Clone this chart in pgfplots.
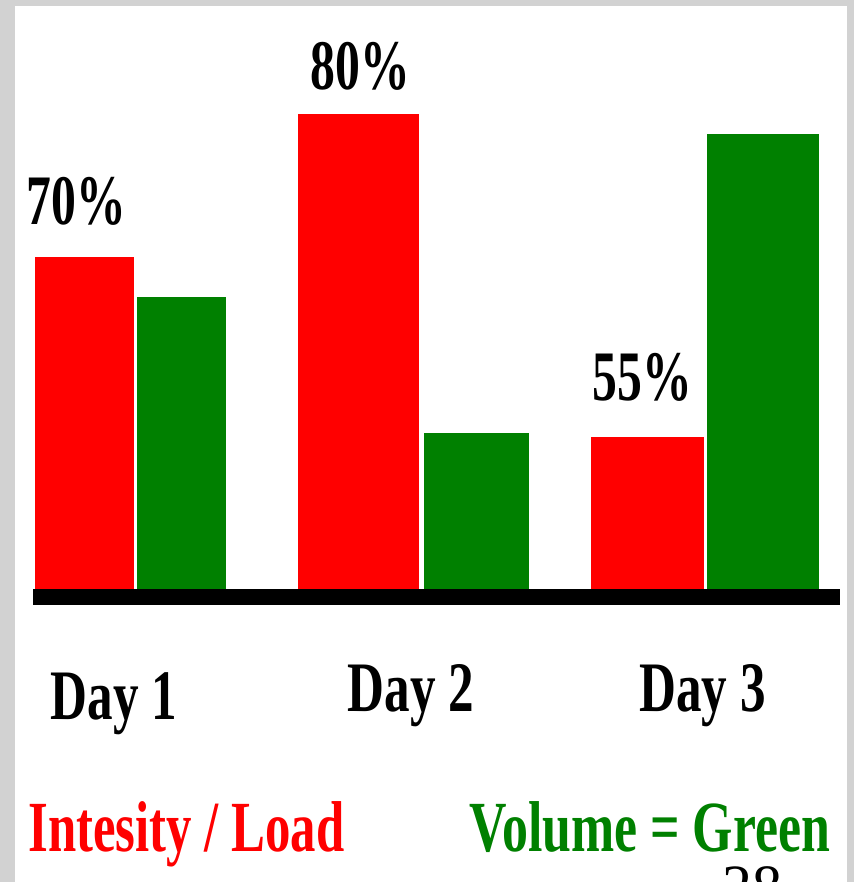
\documentclass[border=0pt]{standalone}
\usepackage{graphicx}
\usepackage{fontspec}
\setmainfont{Liberation Serif}
\usepackage{pgfplots}
\pgfplotsset{compat=1.18}
\definecolor{slidegray}{HTML}{D2D2D2}
\definecolor{rred}{HTML}{FF0000}
\definecolor{ggreen}{HTML}{008000}

% condensed bold label text, as on the slide
\newcommand{\lbl}[2][0.7]{\scalebox{#1}[1]{\fontsize{35.5pt}{40pt}\selectfont\bfseries #2}}

\begin{document}
\begin{tikzpicture}
  \path[use as bounding box] (0,0) rectangle (427pt,441pt);
  \clip (0,0) rectangle (427pt,441pt);
  \fill[slidegray] (0,0) rectangle (427pt,441pt);
  \fill[white] (7.5pt,0) rectangle (423.5pt,438pt);

  \begin{axis}[
    at={(0,0)}, anchor=south west,
    scale only axis,
    width=427pt, height=441pt,
    xmin=0, xmax=854,
    ymin=-285, ymax=597,
    hide axis,
    clip=false,
    every axis plot/.append style={ybar, bar shift=0pt, draw=none},
    every node near coord/.append style={anchor=base, inner sep=0pt},
  ]
    % Day 1
    \addplot[fill=rred, bar width=99, nodes near coords={\lbl{70\%}},
      every node near coord/.append style={xshift=-4.25pt, yshift=16pt}]
      coordinates {(84.5,340)};
    \addplot[fill=ggreen, bar width=89] coordinates {(181.5,300)};
    % Day 2
    \addplot[fill=rred, bar width=121, nodes near coords={\lbl{80\%}},
      every node near coord/.append style={xshift=0.75pt, yshift=12pt}]
      coordinates {(358.5,483)};
    \addplot[fill=ggreen, bar width=105] coordinates {(476.5,164)};
    % Day 3
    \addplot[fill=rred, bar width=113, nodes near coords={\lbl{55\%}},
      every node near coord/.append style={xshift=-2.75pt, yshift=18pt}]
      coordinates {(647.5,160)};
    \addplot[fill=ggreen, bar width=112] coordinates {(763,463)};

    \draw[line width=8pt] (axis cs:33,0) -- (axis cs:840,0);

    \node[anchor=base, inner sep=0pt] at (axis cs:114,-123) {\lbl[0.72]{Day 1}};
    \node[anchor=base, inner sep=0pt] at (axis cs:411,-115) {\lbl[0.72]{Day 2}};
    \node[anchor=base, inner sep=0pt] at (axis cs:702.5,-115) {\lbl[0.72]{Day 3}};

    \node[anchor=base west, inner sep=0pt, text=rred] at (axis cs:28,-255)
      {\lbl[0.705]{\fontsize{36pt}{40pt}\selectfont Intesity / Load}};
    \node[anchor=base west, inner sep=0pt, text=ggreen] at (axis cs:469,-255)
      {\lbl[0.72]{\fontsize{36pt}{40pt}\selectfont Volume = Green}};
    \node[anchor=base west, inner sep=0pt] at (axis cs:722,-310)
      {\fontsize{30pt}{34pt}\selectfont 28};
  \end{axis}
\end{tikzpicture}
\end{document}
